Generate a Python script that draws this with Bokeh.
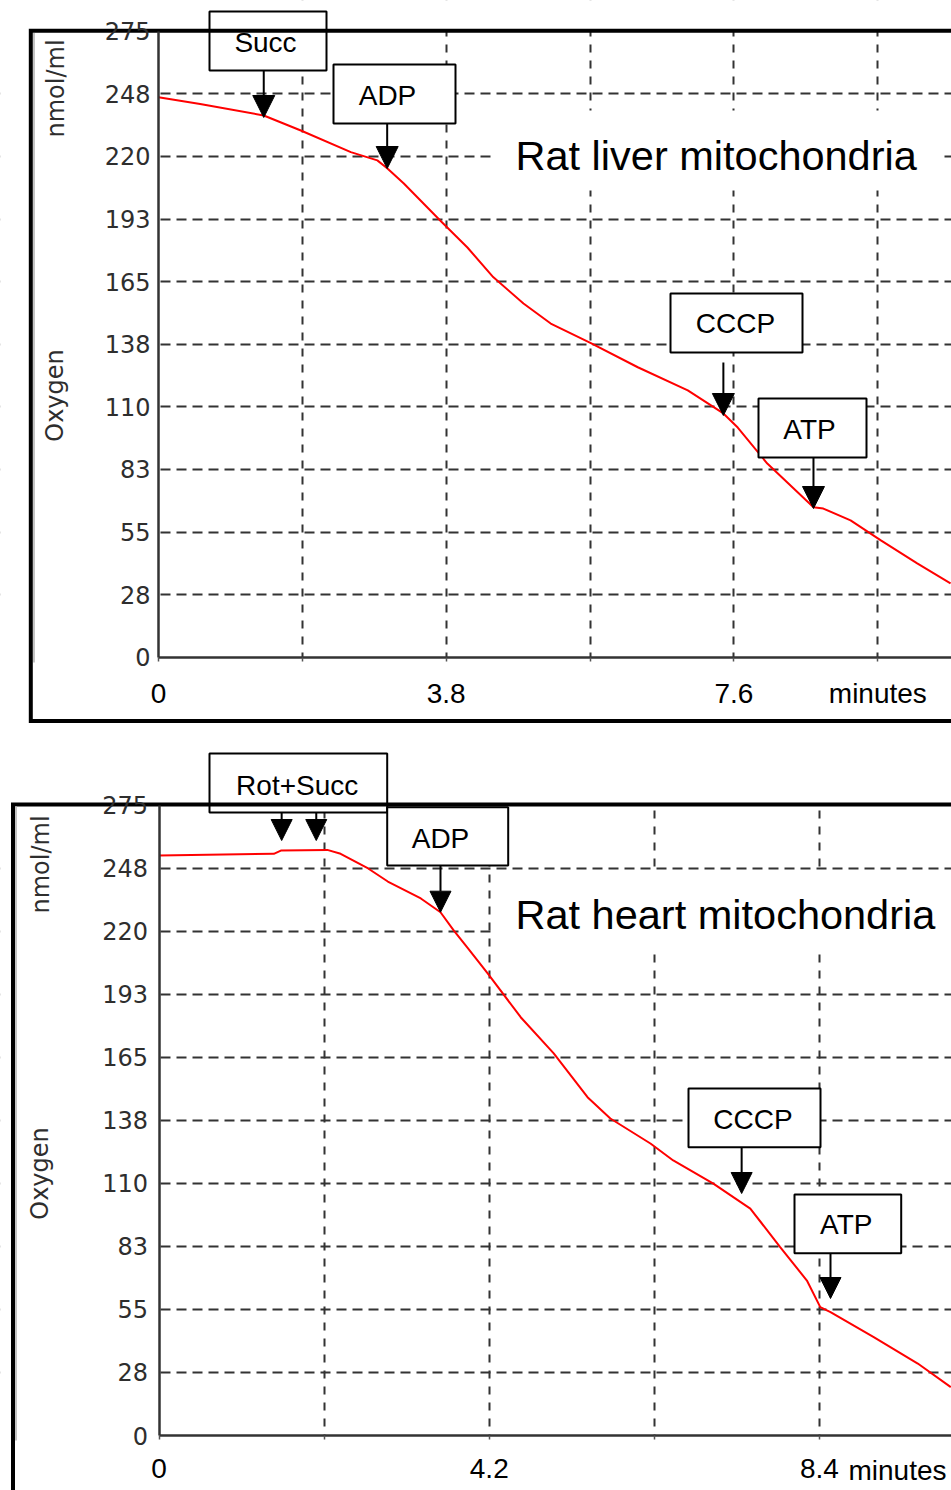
import numpy as np
from bokeh.plotting import figure
from bokeh.models import Range1d, FixedTicker, LinearAxis, Grid, Arrow, NormalHead
from bokeh.layouts import column
from bokeh.embed import file_html
from bokeh.resources import INLINE
from bokeh.core.properties import value

# ---------------- data ----------------
liver_time = [0.00, 0.55, 1.39, 1.88, 2.54, 2.89, 3.02, 3.24, 3.72, 4.08, 4.42, 4.82, 5.18,
              5.71, 6.33, 6.99, 7.46, 7.65, 8.04, 8.65, 8.78, 9.14, 9.54, 10.02, 10.46]
liver_oxygen = [246.0, 243.1, 238.0, 231.4, 221.9, 218.3, 214.8, 208.1, 191.9, 180.0, 167.0, 155.4, 146.6,
                138.0, 127.4, 117.2, 107.1, 100.9, 85.1, 65.9, 65.3, 60.1, 51.3, 41.2, 32.4]

heart_time = [0.00, 1.46, 1.55, 2.14, 2.31, 2.66, 2.91, 3.33, 3.58, 3.75, 3.92, 4.18, 4.60, 5.02,
              5.45, 5.74, 6.25, 6.54, 7.05, 7.52, 7.90, 8.24, 8.41, 8.54, 9.09, 9.65, 10.07]
heart_oxygen = [253.1, 253.8, 255.2, 255.5, 253.8, 247.4, 241.7, 234.3, 228.3, 220.3, 213.0, 201.6, 182.5, 166.7,
                147.6, 138.3, 127.4, 120.0, 109.9, 99.0, 82.2, 67.6, 56.0, 53.8, 42.9, 31.4, 21.1]

oxygen_ticks = [0, 27.5, 55, 82.5, 110, 137.5, 165, 192.5, 220, 247.5, 275]
oxygen_tick_labels = ["0", "28", "55", "83", "110", "138", "165", "193", "220", "248", "275"]

liver_time_ticks = [0, 1.9, 3.8, 5.7, 7.6, 9.5]
liver_time_labels = ["0", "", "3.8", "", "7.6", "minutes"]
heart_time_ticks = [0, 2.1, 4.2, 6.3, 8.4, 10.5]
heart_time_labels = ["0", "", "4.2", "", "8.4", ""]

liver_title = "Rat liver mitochondria"
heart_title = "Rat heart mitochondria"

liver_box_labels = ["Succ", "ADP", "CCCP", "ATP"]
liver_event_times = [1.39, 3.02, 7.46, 8.65]          # one arrow per event
heart_box_labels = ["Rot+Succ", "ADP", "CCCP", "ATP"]
heart_event_times = [1.56, 2.00, 3.58, 7.41, 8.54]    # Rot, Succ, ADP, CCCP, ATP

# ---------------- layout (page pixels) ----------------
W = 951
FONT = "Liberation Sans"
TICK_FONT = "DejaVu Sans"
GRID_COLOR = "#333333"
LABEL_COLOR = "#2e2e2e"

liver_layout = dict(
    height=740, top=0, x0=158.0, sx=75.72, y0=656.7, sy=2.276,
    frame_path=[(W + 5, 720.5), (30.3, 720.5), (30.3, 30.3), (W + 5, 30.3)],
    shadow=(33.5, 32.5, 662.0),
    boxes=[(209, 326, 11, 70), (333, 455, 64, 123), (670, 802, 293, 352), (758, 866, 398, 457)],
    box_text=[(265, 41.7), (387, 95), (735, 322.5), (809, 428.5)],
    arrows=[(70, 117), (123, 168), (362, 415), (457, 508)],
    head=22,
    title_bg=(493, 941, 110, 190), title_pos=(515, 154.5), title_size="41.5px",
    nmol=(55, 137), oxygen=(54, 395),
    extra_minutes=None,
    y_standoff=8, x_standoff=17,
)
heart_layout = dict(
    height=750, top=740, x0=158.5, sx=78.63, y0=695.0, sy=2.292,
    frame_path=[(12.5, 1500), (12.5, 804), (W + 5, 804)],
    shadow=(15.5, 806, 1440),
    boxes=[(209, 386.7, 753, 812), (386.7, 507.7, 806.7, 865), (688, 820, 1088, 1146.7), (794, 900.7, 1194, 1252.7)],
    box_text=[(296.7, 784.5), (440, 837.5), (752.5, 1118.8), (845.8, 1223.8)],
    arrows=[(812, 840), (812, 840), (865, 911.7), (1147, 1193), (1253, 1298)],
    head=21,
    title_bg=(491, W + 5, 871, 949), title_pos=(515, 914), title_size="41.5px",
    nmol=(40, 913), oxygen=(39, 1173),
    extra_minutes=(848, 1470),
    y_standoff=11, x_standoff=19,
)


def make_panel(times, oxy, xticks, xlabels, title, box_labels, event_times, L):
    H = L["height"]
    top = L["top"]
    X = lambda px: (px - L["x0"]) / L["sx"]
    Y = lambda py: (L["y0"] - (py - top)) / L["sy"]

    xmin, xmax = X(0), X(W)
    ymin, ymax = Y(top + H), Y(top)
    p = figure(width=W, height=H, x_range=Range1d(xmin, xmax), y_range=Range1d(ymin, ymax),
               output_backend="svg", toolbar_location=None, tools="", min_border=0,
               x_axis_location=None, y_axis_location=None)
    p.center = []          # drop default grids
    p.outline_line_color = None
    p.background_fill_color = "white"
    p.border_fill_color = "white"

    # grids
    vgrid = Grid(dimension=0, ticker=FixedTicker(ticks=xticks[1:]))
    vgrid.grid_line_color = GRID_COLOR
    vgrid.grid_line_width = 2
    vgrid.grid_line_dash = "8 8"
    hgrid = Grid(dimension=1, ticker=FixedTicker(ticks=oxygen_ticks[1:-1]))
    hgrid.grid_line_color = GRID_COLOR
    hgrid.grid_line_width = 2
    hgrid.grid_line_dash = "10 6"
    p.add_layout(vgrid)
    p.add_layout(hgrid)

    vtop = oxygen_ticks[-1]
    # white masks outside the plotting window
    p.quad(left=[xmin - 1, xmin - 1, xmin - 1], right=[0, xmax + 1, xmax + 1],
           bottom=[ymin - 5, vtop, ymin - 5], top=[ymax + 5, ymax + 5, 0],
           fill_color="white", line_color=None)

    # title background + text
    bl, br, bt, bb = L["title_bg"]
    p.quad(left=[X(bl)], right=[X(br)], top=[Y(bt)], bottom=[Y(bb)], fill_color="white", line_color=None)
    tx, ty = L["title_pos"]
    p.text(x=[X(tx)], y=[Y(ty)], text=[title], text_font=value(FONT), text_font_size=L["title_size"],
           text_align="left", text_baseline="middle", text_color="black")

    # oxygen trace
    p.line(times, oxy, line_color="#ff0000", line_width=2)

    # event boxes
    p.quad(left=[X(b[0]) for b in L["boxes"]], right=[X(b[1]) for b in L["boxes"]],
           top=[Y(b[2]) for b in L["boxes"]], bottom=[Y(b[3]) for b in L["boxes"]],
           fill_color="white", line_color="black", line_width=2)
    p.text(x=[X(c[0]) for c in L["box_text"]], y=[Y(c[1]) for c in L["box_text"]], text=box_labels,
           text_font=value(FONT), text_font_size="28px", text_align="center", text_baseline="middle",
           text_color="black")

    # arrows
    for t, (s, e) in zip(event_times, L["arrows"]):
        p.add_layout(Arrow(end=NormalHead(size=L["head"], fill_color="black", line_color="black", line_width=1),
                           x_start=t, y_start=Y(s), x_end=t, y_end=Y(e),
                           line_color="black", line_width=2))

    # y-axis titles (rotated)
    nx, ny = L["nmol"]
    p.text(x=[X(nx)], y=[Y(ny)], text=["nmol/ml"], angle=np.pi / 2, text_font=value(TICK_FONT),
           text_font_size="24px", text_align="left", text_baseline="middle", text_color=LABEL_COLOR)
    ox, oy = L["oxygen"]
    p.text(x=[X(ox)], y=[Y(oy)], text=["Oxygen"], angle=np.pi / 2, text_font=value(TICK_FONT),
           text_font_size="24px", text_align="center", text_baseline="middle", text_color=LABEL_COLOR)

    if L["extra_minutes"] is not None:
        mx, my = L["extra_minutes"]
        p.text(x=[X(mx)], y=[Y(my)], text=["minutes"], text_font=value(FONT), text_font_size="28px",
               text_align="left", text_baseline="middle", text_color="black")

    # outer frame + shadow
    fp = L["frame_path"]
    p.line([X(a) for a, b in fp], [Y(b) for a, b in fp], line_color="black", line_width=4, line_join="miter")
    sx_, s0, s1 = L["shadow"]
    p.line([X(sx_), X(sx_)], [Y(s0), Y(s1)], line_color="#c4c4c4", line_width=2)

    # axes at fixed locations
    yaxis = LinearAxis(ticker=FixedTicker(ticks=oxygen_ticks),
                       major_label_overrides=dict(zip(oxygen_ticks, oxygen_tick_labels)),
                       fixed_location=0, bounds=(0, vtop))
    yaxis.major_tick_out = 0
    yaxis.major_tick_in = 0
    yaxis.minor_tick_out = 0
    yaxis.minor_tick_in = 0
    yaxis.axis_line_color = "#333333"
    yaxis.axis_line_width = 2.5
    yaxis.major_label_text_font = TICK_FONT
    yaxis.major_label_text_font_size = "24px"
    yaxis.major_label_text_color = LABEL_COLOR
    yaxis.major_label_standoff = L["y_standoff"]
    p.add_layout(yaxis, "left")

    xaxis = LinearAxis(ticker=FixedTicker(ticks=xticks),
                       major_label_overrides=dict(zip(xticks, xlabels)),
                       fixed_location=0, bounds=(0, xmax + 1))
    xaxis.major_tick_out = 4
    xaxis.major_tick_in = 0
    xaxis.minor_tick_out = 0
    xaxis.minor_tick_in = 0
    xaxis.major_tick_line_color = "#555555"
    xaxis.major_tick_line_width = 1.5
    xaxis.axis_line_color = "#333333"
    xaxis.axis_line_width = 2.5
    xaxis.major_label_text_font = FONT
    xaxis.major_label_text_font_size = "28px"
    xaxis.major_label_text_color = "black"
    xaxis.major_label_standoff = L["x_standoff"]
    p.add_layout(xaxis, "below")
    return p


p1 = make_panel(liver_time, liver_oxygen, liver_time_ticks, liver_time_labels, liver_title,
                liver_box_labels, liver_event_times, liver_layout)
p2 = make_panel(heart_time, heart_oxygen, heart_time_ticks, heart_time_labels, heart_title,
                heart_box_labels, heart_event_times, heart_layout)

page = column(p1, p2, spacing=0)
open("out.html", "w").write(file_html(page, INLINE))
